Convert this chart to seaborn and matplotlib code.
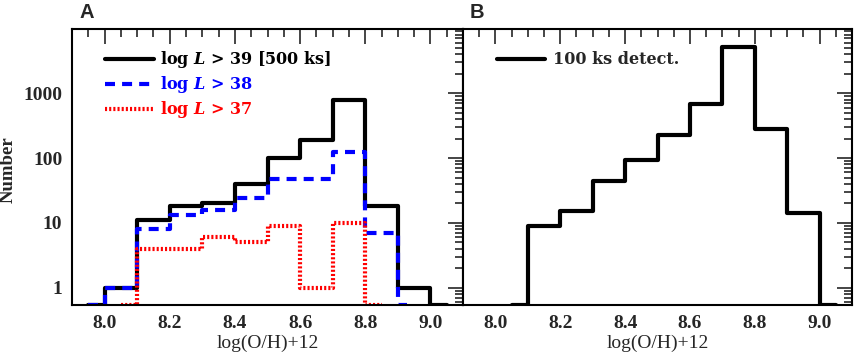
import numpy as np
import matplotlib.pyplot as plt
import seaborn as sns
from matplotlib.ticker import MultipleLocator, LogLocator, NullFormatter, FixedFormatter

# bin centres and counts (0 = empty bin)
oh_a = [7.95, 8.05, 8.15, 8.25, 8.35, 8.45, 8.55, 8.65, 8.75, 8.85, 8.95, 9.05]
n_l39 = [0, 1, 11, 18, 20, 40, 100, 190, 790, 18, 1, 0]

oh_l38 = [7.95, 8.05, 8.15, 8.25, 8.35, 8.45, 8.55, 8.65, 8.75, 8.85, 8.95]
n_l38 = [0, 1, 8, 13, 16, 24, 47, 47, 126, 7, 0]

oh_l37 = [8.05, 8.15, 8.25, 8.35, 8.45, 8.55, 8.65, 8.75, 8.85]
n_l37 = [0, 4, 4, 6, 5, 9, 1, 10, 0]

oh_b = [8.05, 8.15, 8.25, 8.35, 8.45, 8.55, 8.65, 8.75, 8.85, 8.95, 9.05]
n_100ks = [0, 9, 15, 45, 92, 223, 685, 5090, 282, 14, 0]

xticks = [8.0, 8.2, 8.4, 8.6, 8.8, 9.0]
xlabels = ["8.0", "8.2", "8.4", "8.6", "8.8", "9.0"]
yticks = [1, 10, 100, 1000]
ylabels = ["1", "10", "100", "1000"]

YMIN, YMAX = 0.54, 9800

sns.set_style("white")
plt.rcParams["font.family"] = ["Liberation Serif", "DejaVu Serif"]
plt.rcParams["font.weight"] = "bold"
plt.rcParams["mathtext.fontset"] = "custom"
plt.rcParams["mathtext.rm"] = "DejaVu Serif:bold"
plt.rcParams["mathtext.it"] = "DejaVu Serif:italic:bold"

fig = plt.figure(figsize=(8.58, 3.55), dpi=100)
axA = fig.add_axes([72 / 858, 50 / 355, 391 / 858, 276 / 355])
axB = fig.add_axes([463 / 858, 50 / 355, 389 / 858, 276 / 355])


def floor(v):
    return np.clip(np.array(v, dtype=float), YMIN, None)


LW = 3
DASH = (0, (2.4, 1.7))
DOT = (0, (0.5, 0.5))
sns.lineplot(x=oh_a, y=floor(n_l39), ax=axA, color="black", lw=LW,
             drawstyle="steps-mid", errorbar=None)
sns.lineplot(x=oh_l38, y=floor(n_l38), ax=axA, color="#0000ff", lw=LW,
             linestyle=DASH, drawstyle="steps-mid", errorbar=None)
sns.lineplot(x=oh_l37, y=floor(n_l37), ax=axA, color="#ff0000", lw=LW,
             linestyle=DOT, drawstyle="steps-mid", errorbar=None)
sns.lineplot(x=oh_b, y=floor(n_100ks), ax=axB, color="black", lw=LW,
             drawstyle="steps-mid", errorbar=None)

for ax in (axA, axB):
    ax.set_yscale("log")
    ax.set_xlim(7.9, 9.1)
    ax.set_ylim(YMIN, YMAX)
    ax.xaxis.set_major_locator(plt.FixedLocator(xticks))
    ax.xaxis.set_major_formatter(FixedFormatter(xlabels))
    ax.xaxis.set_minor_locator(MultipleLocator(0.05))
    ax.yaxis.set_major_locator(plt.FixedLocator(yticks))
    ax.yaxis.set_minor_locator(LogLocator(base=10, subs=np.arange(2, 10)))
    ax.yaxis.set_minor_formatter(NullFormatter())
    ax.tick_params(which="both", direction="in", top=True, right=True,
                   width=1.2, labelsize=14, pad=7)
    ax.tick_params(which="major", length=11)
    ax.tick_params(which="minor", length=6)
    for s in ax.spines.values():
        s.set_linewidth(1.5)
        s.set_color("black")
    ax.set_xlabel("log(O/H)+12", fontsize=14, fontweight="normal", labelpad=2)
    ax.set_facecolor("white")

axA.yaxis.set_major_formatter(FixedFormatter(ylabels))
axA.set_ylabel("Number", fontsize=13.5, fontweight="bold")
axA.yaxis.set_label_coords(-0.142, 0.49)
axB.set_yticklabels([])
axB.set_ylabel("")

# legends drawn as in the original (line sample + label)
leg = [("log $L$ > 39 [500 ks]", "black", "-"),
       ("log $L$ > 38", "#0000ff", DASH),
       ("log $L$ > 37", "#ff0000", DOT)]
for i, (txt, col, ls) in enumerate(leg):
    yf = 0.89 - i * 0.09
    axA.plot([0.085, 0.21], [yf, yf], transform=axA.transAxes, color=col,
             lw=LW, linestyle=ls)
    axA.text(0.225, yf, txt, transform=axA.transAxes, color=col,
             fontsize=11.5, family="DejaVu Serif", va="center", ha="left")

axB.plot([0.088, 0.21], [0.89, 0.89], transform=axB.transAxes, color="black", lw=LW)
axB.text(0.232, 0.89, "100 ks detect.", transform=axB.transAxes,
         fontsize=11.5, family="DejaVu Serif", va="center", ha="left")

fig.text(79 / 858, 1 - 13 / 355, "A", fontsize=14.5, fontweight="bold",
         family="Liberation Sans", va="center", ha="left")
fig.text(470 / 858, 1 - 12 / 355, "B", fontsize=14.5, fontweight="bold",
         family="Liberation Sans", va="center", ha="left")

fig.savefig("out.png", dpi=100, facecolor="white")
